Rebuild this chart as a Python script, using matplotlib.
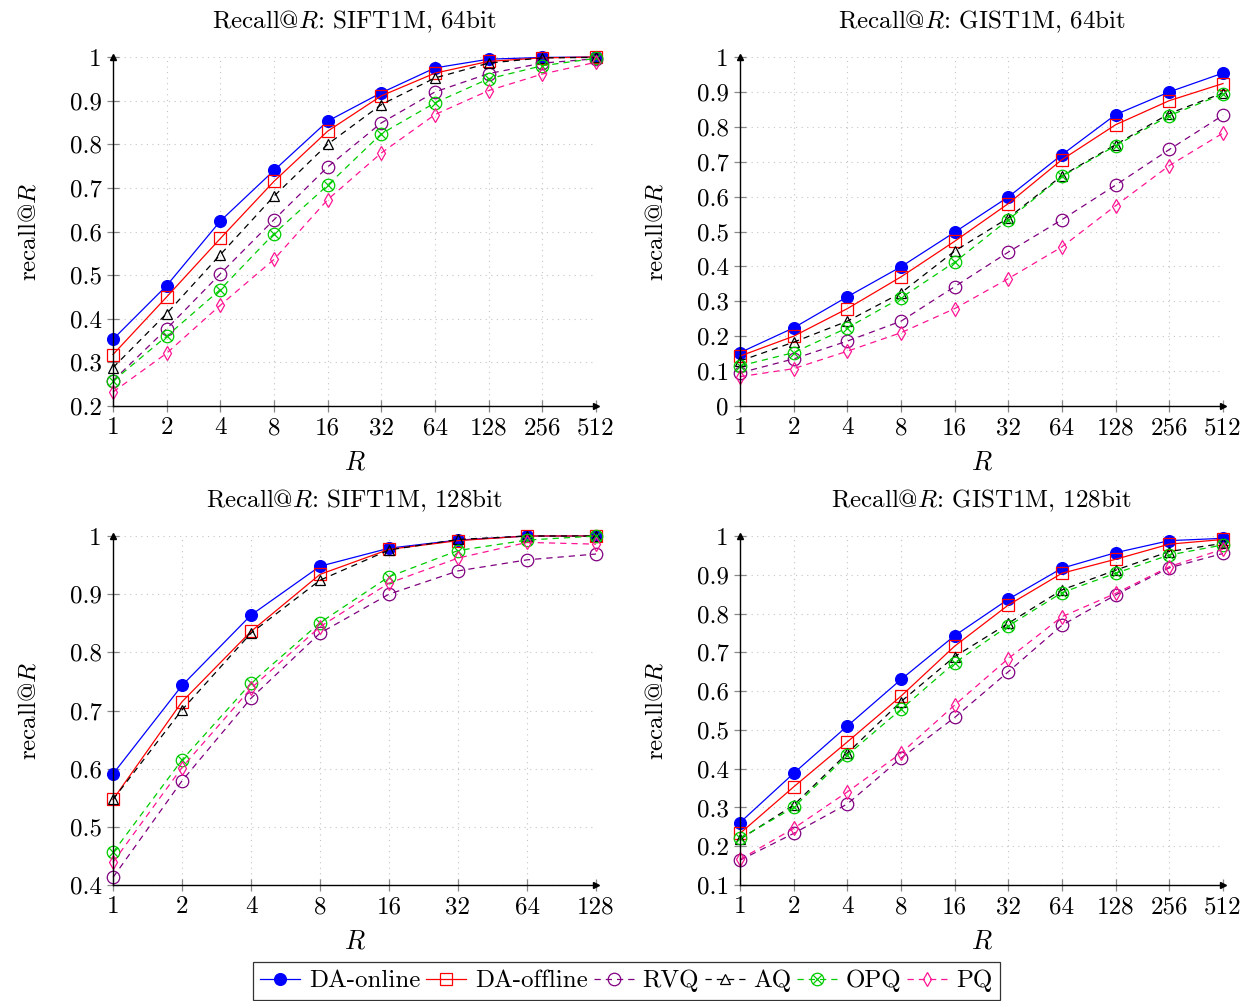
import matplotlib
matplotlib.use("Agg")
import matplotlib.pyplot as plt
from matplotlib.path import Path
from matplotlib.ticker import FixedLocator, FuncFormatter, NullLocator

plt.rcParams['font.family'] = ['cmr10', 'DejaVu Serif']
plt.rcParams['mathtext.fontset'] = 'cm'
plt.rcParams['axes.unicode_minus'] = False

methods = ["DA-online", "DA-offline", "RVQ", "AQ", "OPQ", "PQ"]

R_10 = [1, 2, 4, 8, 16, 32, 64, 128, 256, 512]
R_8 = [1, 2, 4, 8, 16, 32, 64, 128]

# Recall@R: SIFT1M, 64bit
sift64 = {
    "DA-online": [0.353, 0.476, 0.624, 0.740, 0.853, 0.918, 0.975, 0.995, 0.999, 1.0],
    "DA-offline": [0.318, 0.450, 0.584, 0.715, 0.830, 0.911, 0.963, 0.990, 0.998, 1.0],
    "RVQ": [0.258, 0.377, 0.503, 0.627, 0.748, 0.849, 0.920, 0.962, 0.986, 0.996],
    "AQ": [0.288, 0.412, 0.547, 0.681, 0.800, 0.891, 0.952, 0.986, 0.998, 0.999],
    "OPQ": [0.257, 0.360, 0.467, 0.595, 0.706, 0.824, 0.895, 0.950, 0.980, 0.997],
    "PQ": [0.232, 0.321, 0.431, 0.536, 0.673, 0.780, 0.868, 0.923, 0.961, 0.988],
}

# Recall@R: GIST1M, 64bit
gist64 = {
    "DA-online": [0.153, 0.224, 0.313, 0.399, 0.498, 0.599, 0.720, 0.835, 0.900, 0.954],
    "DA-offline": [0.143, 0.200, 0.279, 0.370, 0.472, 0.580, 0.706, 0.806, 0.875, 0.924],
    "RVQ": [0.095, 0.135, 0.186, 0.243, 0.342, 0.441, 0.534, 0.633, 0.735, 0.833],
    "AQ": [0.129, 0.183, 0.243, 0.324, 0.444, 0.539, 0.660, 0.749, 0.838, 0.897],
    "OPQ": [0.115, 0.153, 0.224, 0.310, 0.412, 0.534, 0.658, 0.746, 0.832, 0.894],
    "PQ": [0.084, 0.107, 0.157, 0.210, 0.279, 0.365, 0.456, 0.574, 0.689, 0.782],
}

# Recall@R: SIFT1M, 128bit
sift128 = {
    "DA-online": [0.591, 0.743, 0.864, 0.948, 0.979, 0.993, 1.0, 1.0],
    "DA-offline": [0.547, 0.715, 0.836, 0.934, 0.977, 0.992, 1.0, 1.0],
    "RVQ": [0.413, 0.579, 0.721, 0.833, 0.900, 0.940, 0.959, 0.969],
    "AQ": [0.547, 0.701, 0.833, 0.924, 0.976, 0.994, 1.0, 1.0],
    "OPQ": [0.456, 0.615, 0.747, 0.851, 0.930, 0.975, 0.993, 1.0],
    "PQ": [0.439, 0.602, 0.738, 0.844, 0.919, 0.962, 0.989, 0.986],
}

# Recall@R: GIST1M, 128bit
gist128 = {
    "DA-online": [0.261, 0.388, 0.510, 0.630, 0.743, 0.837, 0.917, 0.957, 0.988, 0.994],
    "DA-offline": [0.233, 0.353, 0.469, 0.587, 0.716, 0.822, 0.904, 0.940, 0.979, 0.991],
    "RVQ": [0.164, 0.233, 0.309, 0.427, 0.532, 0.650, 0.770, 0.848, 0.918, 0.955],
    "AQ": [0.218, 0.306, 0.440, 0.573, 0.689, 0.775, 0.861, 0.912, 0.960, 0.981],
    "OPQ": [0.220, 0.300, 0.435, 0.553, 0.673, 0.768, 0.854, 0.904, 0.951, 0.977],
    "PQ": [0.166, 0.246, 0.340, 0.440, 0.564, 0.684, 0.792, 0.852, 0.921, 0.966],
}

# circle with a cross inside (pgfplots "otimes")
circ = Path.unit_circle()
d = 0.7071
cross = Path([(-d, -d), (d, d), (-d, d), (d, -d)],
             [Path.MOVETO, Path.LINETO, Path.MOVETO, Path.LINETO])
otimes = Path.make_compound_path(circ, cross)

dash = (0, (5, 4))
styles = {
    "DA-online": dict(color="blue", ls="-", marker="o", ms=8.5, mfc="blue"),
    "DA-offline": dict(color="red", ls="-", marker="s", ms=8.5, mfc="none"),
    "RVQ": dict(color="#800080", ls=dash, marker="o", ms=9, mfc="none"),
    "AQ": dict(color="black", ls=dash, marker="^", ms=7, mfc="none"),
    "OPQ": dict(color="#00cc00", ls=dash, marker=otimes, ms=9, mfc="none"),
    "PQ": dict(color="#ff1493", ls=dash, marker="d", ms=7, mfc="none"),
}

fig = plt.figure(figsize=(12.49, 10.01), dpi=100)

panels = [
    ("Recall@$R$: SIFT1M, 64bit", R_10, sift64, 0.2, [0.2, 0.3, 0.4, 0.5, 0.6, 0.7, 0.8, 0.9, 1.0],
     [113, 57, 596, 406]),
    ("Recall@$R$: GIST1M, 64bit", R_10, gist64, 0.0, [0, 0.1, 0.2, 0.3, 0.4, 0.5, 0.6, 0.7, 0.8, 0.9, 1.0],
     [740, 57, 1223, 406]),
    ("Recall@$R$: SIFT1M, 128bit", R_8, sift128, 0.4, [0.4, 0.5, 0.6, 0.7, 0.8, 0.9, 1.0],
     [113, 536, 596, 885]),
    ("Recall@$R$: GIST1M, 128bit", R_10, gist128, 0.1, [0.1, 0.2, 0.3, 0.4, 0.5, 0.6, 0.7, 0.8, 0.9, 1.0],
     [740, 536, 1223, 885]),
]

W, H = 1249, 1001
handles = []
for title, xs, data, ymin, yticks, box in panels:
    x0, y0, x1, y1 = box
    ax = fig.add_axes([x0 / W, 1 - y1 / H, (x1 - x0) / W, (y1 - y0) / H])
    for name in methods:
        st = styles[name]
        h, = ax.plot(xs, data[name], color=st["color"], ls=st["ls"], lw=0.9,
                     marker=st["marker"], ms=st["ms"], mfc=st["mfc"],
                     mec=st["color"], mew=0.9, label=name, clip_on=False)
        if len(handles) < len(methods):
            handles.append(h)
    ax.set_xscale("log", base=2)
    ax.set_xlim(xs[0], xs[-1])
    ax.set_ylim(ymin, 1.0)
    ax.xaxis.set_major_locator(FixedLocator(xs))
    ax.xaxis.set_minor_locator(NullLocator())
    ax.xaxis.set_major_formatter(FuncFormatter(lambda v, p: "%d" % v))
    ax.yaxis.set_major_locator(FixedLocator(yticks))
    ax.yaxis.set_major_formatter(FuncFormatter(lambda v, p: "%g" % round(v, 2)))
    ax.grid(True, color="#c4c4c4", ls=(0, (1, 4)), lw=0.8)
    for s in ["top", "right"]:
        ax.spines[s].set_visible(False)
    for s in ["left", "bottom"]:
        ax.spines[s].set_linewidth(1.0)
        ax.spines[s].set_zorder(5)
    ax.tick_params(direction="inout", length=8, width=0.9, color="#888888",
                   labelsize=18, pad=4)
    ax.plot(1, 0, ">k", ms=5, transform=ax.transAxes, clip_on=False, zorder=6)
    ax.plot(0, 1, "^k", ms=5, transform=ax.transAxes, clip_on=False, zorder=6)
    ax.set_title(title, fontsize=18, pad=21)
    ax.set_xlabel("$R$", fontsize=19, labelpad=8)
    ax.set_ylabel("recall@$R$", fontsize=18, labelpad=21)

leg = fig.legend(handles, methods, loc="lower center", bbox_to_anchor=(0.5015, 0.0),
                 ncol=6, fontsize=18, frameon=True, fancybox=False,
                 edgecolor="black", handlelength=1.6, handletextpad=0.35,
                 columnspacing=0.23, borderpad=0.3, borderaxespad=0.05)
leg.get_frame().set_linewidth(0.9)

fig.savefig("out.png", dpi=100)
